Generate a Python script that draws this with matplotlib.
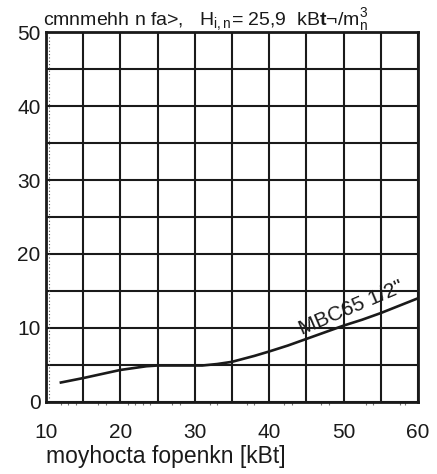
import matplotlib
matplotlib.use("Agg")
import matplotlib.pyplot as plt

plt.rcParams['font.family'] = ['Liberation Sans', 'DejaVu Sans']
plt.rcParams['mathtext.fontset'] = 'custom'
plt.rcParams['mathtext.rm'] = 'Liberation Sans'
plt.rcParams['mathtext.bf'] = 'Liberation Sans:bold'
plt.rcParams['mathtext.it'] = 'Liberation Sans'

# curve
power = [12, 15, 20, 23.5, 25, 28, 31, 33, 35, 38, 40, 42.5, 45, 47.5, 50, 52.5, 55, 57.5, 60]
pressure = [2.6, 3.2, 4.3, 4.8, 4.9, 4.9, 4.9, 5.1, 5.4, 6.2, 6.8, 7.6, 8.5, 9.4, 10.3, 11.1, 12.0, 13.0, 14.0]

x_labels = ['10', '', '20', '', '30', '', '40', '', '50', '', '60']
y_labels = ['0', '', '10', '', '20', '', '30', '', '40', '', '50']
minor_x = [12, 13, 14, 17, 18, 21, 22, 23, 24, 27, 28, 32, 33, 37, 38, 42, 43, 47, 48, 53, 54, 57.6, 58.3]

title_text = r"cmnmehh n fa>,   $\mathrm{H_{i,n}}$= 25,9  kB$\mathbf{t}$¬/m$\mathrm{^3_n}$"
x_label = "moyhocta fopenkn [kBt]"
curve_label = 'MBC65 1/2"'

fig = plt.figure(figsize=(4.37, 4.74), dpi=100)
ax = fig.add_axes([0.1053, 0.1525, 0.8512, 0.7794])

ax.plot(power, pressure, color='#1a1a1a', lw=1.9, zorder=3)

ax.set_xlim(10, 60)
ax.set_ylim(0, 50)
ax.set_xticks(range(10, 61, 5))
ax.set_xticklabels(x_labels)
ax.set_yticks(range(0, 51, 5))
ax.set_yticklabels(y_labels)
ax.grid(True, color='#1a1a1a', lw=1.5)
ax.set_axisbelow(True)
for s in ax.spines.values():
    s.set_linewidth(2)
    s.set_color('#1a1a1a')

ax.tick_params(axis='both', length=0, colors='#1a1a1a')
ax.tick_params(axis='x', labelsize=15, pad=15)
ax.tick_params(axis='y', labelsize=15, pad=4)

# small tick marks under the bottom edge
ax.set_xticks(minor_x, minor=True)
ax.tick_params(axis='x', which='minor', length=2.5, width=0.8, color='#777777', direction='out', pad=0)

# dotted line just inside the left edge
ax.axvline(10.4, ymin=0.01, ymax=0.99, color='#555555', lw=0.8, ls=(0, (1, 2)), zorder=1)

ax.set_xlabel(x_label, fontsize=16.5, color='#1a1a1a', ha='left')
ax.xaxis.set_label_coords(0.0, -0.118)

ax.text(51.0, 12.7, curve_label, fontsize=15, rotation=23,
        ha='center', va='center', color='#1a1a1a')

fig.text(43 / 437, 1 - 25 / 474, title_text, fontsize=14, color='#1a1a1a',
         ha='left', va='baseline')

fig.savefig('out.png', dpi=100)
